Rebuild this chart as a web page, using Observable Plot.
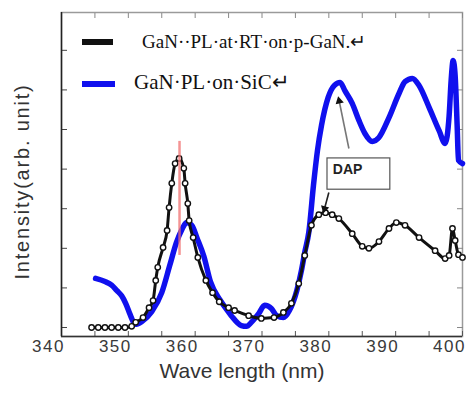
<!DOCTYPE html>
<html><head><meta charset="utf-8">
<script src="https://cdn.jsdelivr.net/npm/d3@7"></script>
<script src="https://cdn.jsdelivr.net/npm/@observablehq/plot@0.6"></script>
<style>
body{margin:0;background:#fff;}
#wrap{position:relative;width:467px;height:403px;overflow:hidden;}
.leg{position:absolute;font-family:"Liberation Serif","Times New Roman",serif;color:#111;white-space:nowrap;line-height:1;}
.sw{position:absolute;height:6px;}
.chart g[aria-label="x-axis tick label"] text{letter-spacing:1.5px;}
</style></head><body><div id="wrap"></div>
<script>
// ---- data ----
const seriesNames = ["GaN··PL·at·RT·on·p-GaN.↵", "GaN·PL·on·SiC↵"];
const blackWavelength = [344.5,345.5,346.5,347.5,348.5,349.5,350.5,351.1,352.2,353.1,353.7,354.1,354.4,355.2,355.8,356.1,356.5,357.0,357.6,358.3,358.5,358.9,359.1,359.7,360.4,361.6,362.6,363.6,365.0,365.9,368.0,369.9,371.8,373.2,374.4,375.5,376.4,377.4,378.5,379.5,380.5,381.5,383.5,385.0,386.0,387.5,389.0,390.1,391.4,393.5,395.9,397.4,398.0,398.5,398.9,399.4,400.0];
const blackIntensity  = [0,0,0,0,0,0,0.03,0.13,0.25,0.5,0.68,1.19,1.52,2.02,2.45,3.03,3.64,4.14,4.27,4.02,3.64,3.13,2.7,2.27,1.77,1.19,0.88,0.65,0.5,0.43,0.3,0.23,0.25,0.38,0.61,1.11,1.82,2.58,2.85,2.9,2.85,2.75,2.37,2.05,2.0,2.17,2.5,2.65,2.58,2.27,1.94,1.74,1.82,2.5,2.2,1.84,1.77];
const blueWavelength = [345.1,346.5,347.5,348.3,349.0,349.6,350.1,350.5,351.0,352.0,353.5,355.0,356.2,357.2,358.0,358.7,359.5,360.3,361.3,362.3,363.7,364.6,365.4,366.9,367.7,368.4,369.5,370.4,371.4,372.2,373.2,374.1,375.2,375.9,376.4,377.0,377.7,378.3,378.9,379.9,380.8,381.7,382.4,383.5,384.5,385.4,386.5,387.5,389.0,390.5,391.4,392.5,393.5,395.0,396.5,397.4,398.0,398.3,398.6,398.9,399.2,399.4,400.0];
const blueIntensity  = [1.24,1.16,1.07,0.93,0.8,0.61,0.4,0.23,0.08,0.15,0.4,0.88,1.57,2.15,2.47,2.65,2.58,2.25,1.8,1.15,0.7,0.48,0.3,0.05,0.03,0.13,0.35,0.56,0.48,0.3,0.25,0.43,0.93,1.44,1.9,2.4,3.59,4.47,5.1,5.81,6.11,6.19,5.98,5.66,5.23,4.9,4.7,4.8,5.3,5.91,6.21,6.29,6.11,5.56,4.97,4.65,5.35,6.24,6.74,6.36,5.1,4.22,4.14];
const xTickValues = [340,345,350,355,360,365,370,375,380,385,390,395,400];
const xTickLabels = [340,350,360,370,380,390,400];
const yTickValues = [0,1,2,3,4,5,6,7];
const peakMarker = [357.66];            // red line at black peak
const peakMarkerRange = [1.82, 4.70];
const dapLabel = ["DAP"];
const dapBox = [{x1:379.8, x2:389.2, y1:3.48, y2:4.27}];
const dapText = [{x:380.6, y:3.98}];
const dapArrows = [
  {x1:383.0, y1:4.52, x2:381.55, y2:5.72, angle:-13, color:"#777"},
  {x1:380.0, y1:3.41, x2:379.35, y2:3.0,  angle:195, color:"#222"}
];
const xLabel = "Wave length (nm)";
const yLabel = "Intensity(arb. unit)";

const black = blackWavelength.map((x,i)=>({x, y:blackIntensity[i]}));
const blue  = blueWavelength.map((x,i)=>({x, y:blueIntensity[i]}));
const yMin = -0.227, yMax = 7.955;

const chart = Plot.plot({
  width: 467, height: 403,
  marginLeft: 61, marginRight: 5, marginTop: 12, marginBottom: 67,
  className: "chart",
  style: {background: "white", fontFamily: "'Liberation Sans', Arial, sans-serif"},
  x: {domain: [340, 400]},
  y: {domain: [yMin, yMax]},
  marks: [
    Plot.frame({stroke: "#9a9a9a", strokeWidth: 1.5}),
    Plot.axisX(xTickValues, {anchor: "bottom", tickSize: -5, tickFormat: () => "", label: null, stroke: "#555"}),
    Plot.axisX(xTickValues, {anchor: "top", tickSize: -5, tickFormat: () => "", label: null, stroke: "#888"}),
    Plot.axisX(xTickLabels, {anchor: "bottom", tickSize: 0, tickPadding: 3, dx: -13, fontSize: 17, fill: "#3a3a3a", label: null}),
    Plot.axisY(yTickValues, {anchor: "left", tickSize: -6, tickFormat: () => "", label: null, stroke: "#444"}),
    Plot.axisY(yTickValues, {anchor: "right", tickSize: -6, tickFormat: () => "", label: null, stroke: "#888"}),
    Plot.ruleX([340], {stroke: "#222", strokeWidth: 1.5}),
    Plot.ruleY([yMin], {stroke: "#333", strokeWidth: 1.5}),
    Plot.line(blue, {x: "x", y: "y", stroke: "#1010ee", strokeWidth: 5.5, curve: "monotone-x"}),
    Plot.line(black, {x: "x", y: "y", stroke: "#111", strokeWidth: 3, curve: "monotone-x"}),
    Plot.dot(black, {x: "x", y: "y", r: 2.7, stroke: "#111", strokeWidth: 1.4, fill: "white"}),
    Plot.ruleX(peakMarker, {y1: peakMarkerRange[0], y2: peakMarkerRange[1], stroke: "#f07070", strokeWidth: 2.5, strokeOpacity: 0.75}),
    Plot.rect(dapBox, {x1: "x1", x2: "x2", y1: "y1", y2: "y2", fill: "white", stroke: "#555", strokeWidth: 1.2}),
    Plot.text(dapText, {x: "x", y: "y", text: () => dapLabel[0], textAnchor: "start", fontSize: 14, fontWeight: "bold", fill: "#222"}),
    Plot.link(dapArrows, {x1: "x1", y1: "y1", x2: "x2", y2: "y2", stroke: "color", strokeWidth: 1.6}),
    Plot.dot(dapArrows, {x: "x2", y: "y2", symbol: "triangle2", r: 4, fill: "#111", rotate: "angle"}),
    Plot.text([xLabel], {frameAnchor: "bottom", textAnchor: "middle", dx: -20, dy: 41, fontSize: 21, fill: "#333"}),
    Plot.text([yLabel], {frameAnchor: "left", textAnchor: "middle", rotate: -90, dx: -39, dy: 7, fontSize: 20, fill: "#333"})
  ]
});
chart.querySelectorAll("text").forEach(t => {
  if (t.textContent === yLabel) t.style.letterSpacing = "1.8px";
});
const wrap = document.getElementById("wrap");
wrap.appendChild(chart);
// legend overlay
const legend = [
  {name: seriesNames[0], color: "#111", swLeft: 82, swWidth: 31, y: 42, textLeft: 142, size: 19},
  {name: seriesNames[1], color: "#1010ee", swLeft: 82, swWidth: 33, y: 84, textLeft: 134, size: 21}
];
legend.forEach(l => {
  const sw = document.createElement("div");
  sw.className = "sw";
  sw.style.left = l.swLeft + "px"; sw.style.width = l.swWidth + "px";
  sw.style.top = (l.y - 3) + "px"; sw.style.background = l.color;
  wrap.appendChild(sw);
  const tx = document.createElement("div");
  tx.className = "leg";
  tx.textContent = l.name;
  tx.style.left = l.textLeft + "px";
  tx.style.fontSize = l.size + "px";
  tx.style.top = (l.y - l.size * 0.55) + "px";
  wrap.appendChild(tx);
});
</script></body></html>
